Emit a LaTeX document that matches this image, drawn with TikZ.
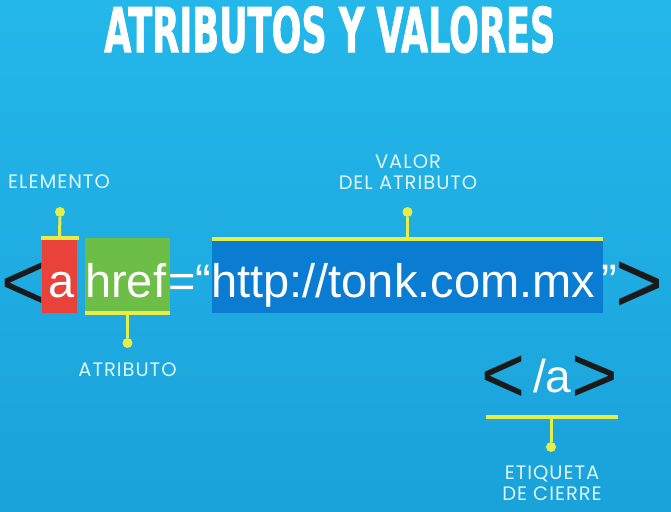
\documentclass[tikz,border=0pt]{standalone}
\usepackage{fontspec}
\usepackage{graphicx}
\setmainfont{Liberation Sans}
\newfontfamily\titlefont[FakeBold=1.5]{DejaVu Sans Condensed Bold}
\newfontfamily\lblfont[LetterSpace=5]{Poppins}
\newfontfamily\codefont{Liberation Sans}

\definecolor{bgtop}{RGB}{36,183,234}
\definecolor{bgbot}{RGB}{26,162,218}
\definecolor{lbltext}{RGB}{222,246,252}
\definecolor{baryellow}{RGB}{232,238,72}
\definecolor{elemred}{RGB}{232,66,58}
\definecolor{attrgreen}{RGB}{108,190,70}
\definecolor{valblue}{RGB}{10,125,210}
\definecolor{brakblack}{RGB}{26,26,26}

\tikzset{
  lbl/.style={font=\lblfont\fontsize{19.5}{20.5}\selectfont, text=lbltext, align=center, inner sep=0pt},
  code/.style={font=\codefont\fontsize{47}{47}\selectfont, text=white, inner sep=0pt, anchor=base west},
  brak/.style={font=\codefont\fontsize{47}{47}\selectfont, text=brakblack, inner sep=0pt, anchor=base west},
  tagbox/.style={inner sep=0pt, minimum width=#1, minimum height=75pt},
  bar/.style={draw=baryellow, line width=3.5pt},
  stem/.style={draw=baryellow, line width=3pt},
  pin/.style={circle, fill=baryellow, inner sep=0pt, minimum size=10pt},
}

\begin{document}
\begin{tikzpicture}[x=1pt,y=-1pt]

    % fondo
    \shade[top color=bgtop, bottom color=bgbot] (0,0) rectangle (671,511);
    \useasboundingbox (0,0) rectangle (671,511);

    % titulo
    \node[anchor=north west, inner sep=0pt, text=white] (title) at (104,6)
        {\resizebox{451pt}{46pt}{\titlefont ATRIBUTOS Y VALORES}};

    % cajas de color
    \node[tagbox=35pt, fill=elemred] (elembox) at (59.5,275.5) {};
    \node[tagbox=85pt, fill=attrgreen] (attrbox) at (127.5,275.5) {};
    \node[tagbox=391pt, fill=valblue, minimum height=74pt] (valbox) at (407.5,276) {};

    % etiqueta de apertura
    \node[brak] (lt) at (1.3,309) {\scalebox{1.6}[1.7]{<}};
    \node[code] (elem) at (48,297) {a};
    \node[code] (attr) at (85,297) {href};
    \node[code] (eq) at (168,297) {=“};
    \node[code] (val) at (211,297) {http://tonk.com.mx};
    \node[code] (cq) at (601,297) {”};
    \node[brak] (gt) at (615,312) {\scalebox{1.75}[1.85]{>}};

    % etiqueta de cierre
    \node[brak] (clt) at (481.3,402) {\scalebox{1.6}[1.7]{<}};
    \node[code, font=\codefont\fontsize{46}{46}\selectfont] (ca) at (533,392) {/a};
    \node[brak] (cgt) at (571,402) {\scalebox{1.7}[1.7]{>}};

    % barras y marcadores
    \draw[bar] ([xshift=-1pt]elembox.north west) -- ([xshift=2pt]elembox.north east);
    \node[pin] (elempin) at (60,212) {};
    \draw[stem] (elembox.north) -- (elempin);

    \draw[bar] (attrbox.south west) -- (attrbox.south east);
    \node[pin] (attrpin) at (127.5,343) {};
    \draw[stem] (attrbox.south) -- (attrpin);

    \draw[bar] (valbox.north west) -- (valbox.north east);
    \node[pin] (valpin) at (407.5,212) {};
    \draw[stem] (valbox.north) -- (valpin);

    \coordinate (cbarl) at (486,417);
    \coordinate (cbarr) at (618,417);
    \coordinate (cbarm) at (551,417);
    \draw[bar] (cbarl) -- (cbarr);
    \node[pin] (closepin) at (551,447) {};
    \draw[stem] (cbarm) -- (closepin);

    % textos
    \node[lbl, anchor=west] (elemlbl) at (8,181.5) {ELEMENTO};
    \node[lbl] (attrlbl) at (127.5,370) {ATRIBUTO};
    \node[lbl] (vallbl) at (408,172) {VALOR\\DEL ATRIBUTO};
    \node[lbl] (closelbl) at (552,483) {ETIQUETA\\DE CIERRE};

\end{tikzpicture}
\end{document}
